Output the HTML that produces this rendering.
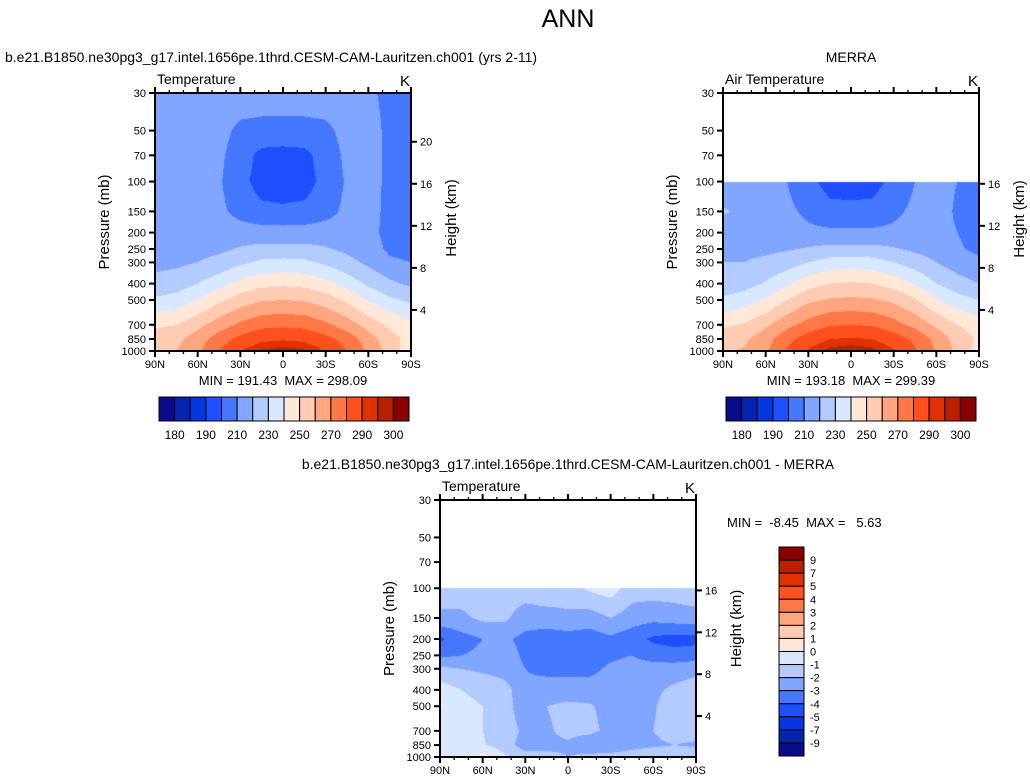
<!DOCTYPE html>
<html><head><meta charset="utf-8">
<style>
html,body{margin:0;padding:0;background:#fff;}
#wrap{position:relative;width:1030px;height:783px;overflow:hidden;font-family:"Liberation Sans",sans-serif;}
canvas{position:absolute;}
svg{position:absolute;left:0;top:0;}
</style></head>
<body>
<div id="wrap">
<canvas id="c1"></canvas>
<canvas id="c2"></canvas>
<canvas id="c3"></canvas>
<svg id="s" width="1030" height="783">
<text x="568" y="27" font-size="25" text-anchor="middle">ANN</text>
<text x="5" y="62" font-size="14">b.e21.B1850.ne30pg3_g17.intel.1656pe.1thrd.CESM-CAM-Lauritzen.ch001 (yrs 2-11)</text>
<text x="851" y="62" font-size="14" text-anchor="middle">MERRA</text>
<text x="568" y="469" font-size="14" text-anchor="middle">b.e21.B1850.ne30pg3_g17.intel.1656pe.1thrd.CESM-CAM-Lauritzen.ch001 - MERRA</text>
</svg>
</div>
<script>
const colors=["#0a0a8c","#0424b0","#0536e0","#1e50ff","#4678ff","#80a6ff","#b3cbff","#d8e8ff","#ffe8d8","#ffcbb3","#ffa680","#ff7846","#ff501e","#e03200","#b82000","#8a0000"];
const lats=[90,75,60,45,30,15,0,-15,-30,-45,-60,-75,-90];
const latTicks=[90,60,30,0,-30,-60,-90];
const latLabels=["90N","60N","30N","0","30S","60S","90S"];
const pTicks=[30,50,70,100,150,200,250,300,400,500,700,850,1000];
const kmTicks=[4,8,12,16,20];
const tempLevels=[180,185,190,200,210,220,230,240,250,260,270,280,290,295,300];
const tempLabels=["180","190","210","230","250","270","290","300"];
const diffLevels=[-9,-7,-5,-4,-3,-2,-1,0,1,2,3,4,5,7,9];
const diffLabels=["-9","-7","-5","-4","-3","-2","-1","0","1","2","3","4","5","7","9"];
const modelP=[30,50,70,100,150,200,250,300,400,500,700,850,1000];
const modelT=[
[215,215,215,215,215,215,215,215,215,215,212,207,206],
[215,215,215,213,208,207,207,207,208,213,215,207,205],
[215,215,215,212,205,197,196,197,205,212,215,207,205],
[216,216,215,211,204,195,194,195,204,211,215,207,205],
[216,216,215,212,207,203,202,203,207,212,214,207,205],
[217,217,216,215,214,214,214,214,214,214,213,207,205],
[217,217,217,218,221,223,223,223,221,218,215,208,206],
[218,218,220,223,228,232,233,232,228,223,218,212,210],
[222,225,230,236,243,247,248,247,243,236,228,222,218],
[232,234,240,248,255,259,260,259,255,248,239,232,228],
[248,250,257,265,272,277,278,277,272,265,256,248,243],
[254,257,265,275,283,288,289,288,283,276,265,254,246],
[258,260,268,280,290,296,298,296,290,280,268,255,244]];
const obsP=[100,150,200,250,300,400,500,700,850,1000];
const obsT=[
[213,214,213,210,203,196,195,196,203,210,212,210,205],
[221,218,214,212,208,203,203,203,208,212,213,209,205],
[216,216,215,214,212,212,212,212,212,213,212,210,207],
[218,218,218,219,221,223,223,223,221,218,216,211,208],
[220,220,222,225,230,234,235,234,230,225,220,215,212],
[223,226,231,238,246,250,251,250,246,239,230,224,220],
[232,235,241,250,258,261,262,261,258,251,241,234,230],
[248,251,258,267,274,279,280,279,274,267,258,250,245],
[255,258,266,277,285,290,291,290,285,278,267,256,248],
[259,261,268,281,291,297,299,297,291,281,269,257,246]];
const diffP=[100,150,200,250,300,400,500,700,850,1000];
const diffV=[
[-1.5,-1.5,-1.5,-1.5,-1.5,-1.2,-1.5,-0.8,-0.5,-1.5,-1.5,-1.5,-1.2],
[-2.2,-2.2,-1.8,-1.8,-2.5,-2.5,-2.2,-2.5,-2.0,-2.5,-2.7,-2.5,-2.5],
[-4.2,-3.4,-3.0,-2.8,-3.3,-3.5,-3.5,-3.5,-3.2,-3.6,-4.2,-4.4,-4.3],
[-3.2,-3.0,-2.8,-2.5,-3.2,-3.5,-3.5,-3.5,-3.2,-3.0,-3.4,-3.6,-3.5],
[-1.8,-2.0,-2.2,-2.5,-3.0,-3.3,-3.3,-3.3,-2.8,-2.6,-2.6,-2.5,-2.3],
[-0.5,-1.0,-1.2,-1.5,-2.8,-2.5,-2.5,-2.5,-2.6,-2.5,-2.2,-1.8,-1.5],
[0.2,-0.8,-1.0,-1.5,-2.7,-2.0,-1.8,-1.9,-2.3,-2.5,-2.1,-1.5,-1.5],
[-0.5,-0.8,-1.0,-1.5,-2.2,-2.1,-1.8,-1.8,-2.2,-2.4,-2.0,-1.5,-1.5],
[-0.5,-0.8,-0.9,-1.5,-2.5,-2.2,-2.1,-2.6,-3.0,-2.5,-2.2,-2.0,-2.2],
[-0.8,-0.8,0.5,-0.8,-1.5,-1.8,-2.0,-1.8,-1.5,-1.2,-1.0,-1.0,-1.0]];

const NS="http://www.w3.org/2000/svg";
const svg=document.getElementById('s');
function el(tag,attrs,parent){const e=document.createElementNS(NS,tag);for(const k in attrs)e.setAttribute(k,attrs[k]);(parent||svg).appendChild(e);return e;}
function levelIndex(v,levels){let i=0;while(i<levels.length&&v>=levels[i])i++;return i;}
function hexRgb(h){return [parseInt(h.substr(1,2),16),parseInt(h.substr(3,2),16),parseInt(h.substr(5,2),16)];}
const rgb=colors.map(hexRgb);

function panel(P,cid,pArr,grid,levels,name){
  const pTop=30,pBot=1000;
  const yOf=p=>P.y+(Math.log10(p)-Math.log10(pTop))/(Math.log10(pBot)-Math.log10(pTop))*P.h;
  const xOf=l=>P.x+(90-l)/180*P.w;
  const cv=document.getElementById(cid);
  cv.width=P.w;cv.height=P.h;cv.style.left=P.x+'px';cv.style.top=P.y+'px';
  const ctx=cv.getContext('2d');const img=ctx.createImageData(P.w,P.h);
  const lp=pArr.map(p=>Math.log10(p));
  for(let j=0;j<P.h;j++){
    const logp=Math.log10(pTop)+(j+0.5)/P.h*(Math.log10(pBot)-Math.log10(pTop));
    if(logp<lp[0]-1e-6){continue;}
    let k=0;while(k<lp.length-2&&logp>lp[k+1])k++;
    let fy=(logp-lp[k])/(lp[k+1]-lp[k]);fy=Math.max(0,Math.min(1,fy));
    for(let i=0;i<P.w;i++){
      const fx=(i+0.5)/P.w*(lats.length-1);let a=Math.min(Math.floor(fx),lats.length-2);const tx=fx-a;
      const v=(grid[k][a]*(1-tx)+grid[k][a+1]*tx)*(1-fy)+(grid[k+1][a]*(1-tx)+grid[k+1][a+1]*tx)*fy;
      const c=rgb[levelIndex(v,levels)];const o=(j*P.w+i)*4;
      img.data[o]=c[0];img.data[o+1]=c[1];img.data[o+2]=c[2];img.data[o+3]=255;
    }
  }
  ctx.putImageData(img,0,0);
  const g=el('g',{});
  
  
  el('rect',{x:P.x,y:P.y,width:P.w,height:P.h,fill:'none',stroke:'#000','stroke-width':2},g);
  for(let l=90;l>=-90;l-=10){const x=xOf(l);const maj=l%30===0;const L=maj?6:3;
    el('line',{x1:x,y1:P.y+P.h,x2:x,y2:P.y+P.h+L,stroke:'#000','stroke-width':maj?2:1.3},g);
    el('line',{x1:x,y1:P.y,x2:x,y2:P.y-L,stroke:'#000','stroke-width':maj?2:1.3},g);}
  latTicks.forEach((l,i)=>{const t=el('text',{x:xOf(l),y:P.y+P.h+17,'font-size':11,'text-anchor':'middle'},g);t.textContent=latLabels[i];});
  pTicks.forEach(p=>{const y=yOf(p);el('line',{x1:P.x,y1:y,x2:P.x-6,y2:y,stroke:'#000','stroke-width':2},g);
    const t=el('text',{x:P.x-9,y:y+4,'font-size':11,'text-anchor':'end'},g);t.textContent=p;});
  kmTicks.forEach(z=>{const p=1013*Math.exp(-z/7);if(p<pArr[0]-0.5&&name!=='model'&&z>16)return;const y=yOf(p);
    el('line',{x1:P.x+P.w,y1:y,x2:P.x+P.w+6,y2:y,stroke:'#000','stroke-width':2},g);
    const t=el('text',{x:P.x+P.w+9,y:y+4,'font-size':11},g);t.textContent=z;});
  let t=el('text',{transform:`translate(${P.x-46},${P.y+P.h/2}) rotate(-90)`,'font-size':15,'text-anchor':'middle'},g);t.textContent='Pressure (mb)';
  t=el('text',{transform:`translate(${P.x+P.w+45},${P.y+P.h/2+P.hOff}) rotate(-90)`,'font-size':15,'text-anchor':'middle'},g);t.textContent='Height (km)';
  t=el('text',{x:P.x+2,y:P.y-9,'font-size':14},g);t.textContent=P.label;
  t=el('text',{x:P.x+P.w-1,y:P.y-7,'font-size':15,'text-anchor':'end'},g);t.textContent='K';
}

const P1={x:155,y:93,w:256,h:258,label:'Temperature',hOff:-4};
const P2={x:723,y:93,w:256,h:258,label:'Air Temperature',hOff:-3};
const P3={x:440,y:500,w:256,h:257,label:'Temperature',hOff:0};
panel(P1,'c1',modelP,modelT,tempLevels,'model');
panel(P2,'c2',obsP,obsT,tempLevels,'merra');
panel(P3,'c3',diffP,diffV,diffLevels,'difference');

function mm(x,y,txt,name,anchor){const t=el('text',{x:x,y:y,'font-size':13,'text-anchor':anchor});
  t.setAttribute('xml:space','preserve');t.style.whiteSpace='pre';
  t.textContent=txt;}
mm(283,385,'MIN = 191.43  MAX = 298.09','model-min-max','middle');
mm(851,385,'MIN = 193.18  MAX = 299.39','merra-min-max','middle');
mm(727,527,'MIN =  -8.45  MAX =   5.63','difference-min-max','start');

function hbar(x0,y0,w,h,name){const g=el('g',{});
  const cw=w/colors.length;
  colors.forEach((c,i)=>el('rect',{x:x0+i*cw,y:y0,width:cw,height:h,fill:c,stroke:'#000','stroke-width':1},g));
  tempLabels.forEach((lab,k)=>{const idx=tempLevels.indexOf(+lab);const t=el('text',{x:x0+(idx+1)*cw,y:y0+h+18,'font-size':12,'text-anchor':'middle'},g);t.textContent=lab;});}
hbar(159,397,250,24,'model-colorbar');
hbar(726,397,250,24,'merra-colorbar');
(function(){const x0=779,y0=547,w=25,h=209;const g=el('g',{});
  const ch=h/colors.length;
  colors.slice().reverse().forEach((c,i)=>el('rect',{x:x0,y:y0+i*ch,width:w,height:ch,fill:c,stroke:'#000','stroke-width':1},g));
  diffLabels.forEach((lab,k)=>{const idx=diffLevels.length-1-k;const t=el('text',{x:x0+w+6,y:y0+(idx+1)*ch+4,'font-size':11},g);t.textContent=lab;});})();
</script>
</body></html>
